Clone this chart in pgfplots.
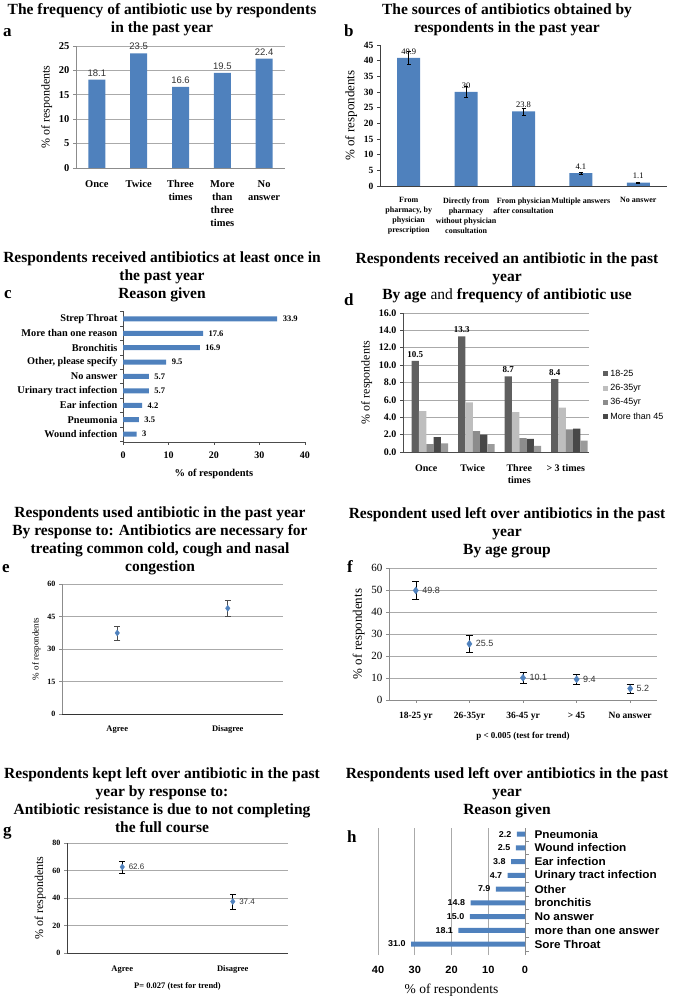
\documentclass[border=0pt]{standalone}
\usepackage{fontspec}
\setmainfont{Liberation Serif}
\setsansfont{Liberation Sans}
\newfontfamily\hsans[FakeStretch=1.05]{Liberation Sans}
\usepackage{pgfplots}
\pgfplotsset{compat=1.18}
\definecolor{barblue}{RGB}{79,129,189}
\definecolor{gridgray}{RGB}{170,170,170}
\definecolor{axgray}{RGB}{140,140,140}
\definecolor{dA}{RGB}{95,95,95}
\definecolor{dB}{RGB}{190,190,190}
\definecolor{dC}{RGB}{140,140,140}
\definecolor{dD}{RGB}{72,72,72}
\definecolor{dE}{RGB}{155,155,155}
\newcommand{\fs}[1]{\fontsize{#1}{#1}\selectfont}
\pgfplotsset{
  base/.style={scale only axis, anchor=north west,
    /pgf/number format/assume math mode=true,
    axis x line*=bottom, axis y line*=left,
    axis line style={draw=axgray, line width=0.6pt},
    tick style={draw=axgray, line width=0.6pt},
    tick align=outside,
    major tick length=3pt,
    grid style={draw=gridgray, line width=0.6pt},
    clip=false,
  },
}
\newcommand{\ttl}[3]{\node[anchor=north, align=center, inner sep=0pt, font=\bfseries\fontsize{15.5}{18}\selectfont] at (#1pt,#2pt) {#3};}
\newcommand{\plet}[3]{\node[anchor=base west, inner sep=0pt, font=\bfseries\fs{17}] at (#1pt,#2pt) {#3};}
\begin{document}
\begin{tikzpicture}
\useasboundingbox (0pt,0pt) rectangle (674pt,1000pt);
% titles
\ttl{162}{997}{The frequency of antibiotic use by respondents\\in the past year}
\ttl{507}{997}{The sources of antibiotics obtained by\\respondents in the past year}
\ttl{162}{748}{Respondents received antibiotics at least once in\\the past year\\Reason given}
\ttl{507}{747}{Respondents received an antibiotic in the past\\year\\By age {\mdseries and} frequency of antibiotic use}
\ttl{160}{493}{Respondents used antibiotic in the past year\\By response to: Antibiotics are necessary for\\treating common cold, cough and nasal\\congestion}
\ttl{507}{493}{Respondent used left over antibiotics in the past\\year\\By age group}
\ttl{162}{233}{Respondents kept left over antibiotic in the past\\year by response to:\\Antibiotic resistance is due to not completing\\the full course}
\ttl{507}{233}{Respondents used left over antibiotics in the past\\year\\Reason given}
\plet{3}{963}{a}
\plet{344}{963}{b}
\plet{4}{701}{c}
\plet{344}{694}{d}
\plet{2}{427}{e}
\plet{347}{427}{f}
\plet{3}{164}{g}
\plet{347}{157}{h}

% ---------- a
\begin{axis}[base, at={(76pt,954pt)}, width=209pt, height=122pt,
  ybar, bar width=17pt, xmin=-0.5, xmax=4.5, ymin=0, ymax=25, ytick={0,5,...,25},
  ymajorgrids, xtick=data, xtick style={draw=none},
  xticklabels={Once,Twice,{Three\\times},{More\\than\\three\\times},{No\\answer}},
  xticklabel style={align=center, font=\bfseries\fontsize{10.5}{13}\selectfont, anchor=north, yshift=-6pt},
  yticklabel style={font=\bfseries\fs{10.5}},
  ylabel={\% of respondents}, ylabel style={font=\fs{12}},
  nodes near coords, nodes near coords style={font=\sffamily\fs{9.5}, text=black!80}]
\addplot[fill=barblue, draw=none] coordinates {(0,18.1) (1,23.5) (2,16.6) (3,19.5) (4,22.4)};
\end{axis}

% ---------- b
\begin{axis}[base, at={(380pt,955pt)}, width=287pt, height=141pt,
  ybar, bar width=23pt, xmin=-0.5, xmax=4.5, ymin=0, ymax=45, ytick={0,5,...,45},
  axis line style={draw=black!75}, tick style={draw=black!75},
  xtick=data, xtick style={draw=none},
  xticklabels={{From\\pharmacy, by\\physician\\prescription},{Directly from\\pharmacy\\without physician\\consultation},{From physician\\after consultation},{Multiple answers},{No answer}},
  xticklabel style={align=center, font=\bfseries\fontsize{8}{10}\selectfont, anchor=north, yshift=-5pt},
  yticklabel style={font=\bfseries\fs{9.5}},
  ylabel={\% of respondents}, ylabel style={font=\fs{13}},
  nodes near coords, nodes near coords style={font=\fs{8.5}}]
\addplot[fill=barblue, draw=none, error bars/.cd, y dir=both, y explicit, error bar style={black, line width=0.8pt}]
  coordinates {(0,40.9) +- (0,2.1) (1,30) +- (0,1.7) (2,23.8) +- (0,1.1) (3,4.1) +- (0,0.3) (4,1.1) +- (0,0.2)};
\end{axis}

% ---------- c
\begin{axis}[base, at={(123pt,689pt)}, width=182pt, height=131pt,
  xbar, bar width=5pt, ymin=-0.55, ymax=8.55, xmin=0, xmax=40, xtick={0,10,...,40},
  axis line style={draw=black!70}, tick style={draw=black!70},
  major tick length=0pt, minor tick length=3pt,
  minor ytick={-0.5,0.5,...,8.5}, minor xtick={0,10,...,40},
  ytick={0,...,8},
  yticklabels={Wound infection, Pneumonia, Ear infection, Urinary tract infection, No answer, {Other, please specify}, Bronchitis, More than one reason, Strep Throat},
  yticklabel style={font=\bfseries\fs{10.3}, xshift=-2pt},
  xticklabel style={font=\bfseries\fs{10}, yshift=-6pt},
  xlabel={\% of respondents}, xlabel style={font=\bfseries\fs{10.5}, yshift=-4pt},
  nodes near coords, nodes near coords style={font=\bfseries\fs{8.5}, anchor=west, xshift=2pt}]
\addplot[fill=barblue, draw=none] coordinates {(3,0) (3.5,1) (4.2,2) (5.7,3) (5.7,4) (9.5,5) (16.9,6) (17.6,7) (33.9,8)};
\end{axis}

% ---------- d
\begin{axis}[base, at={(403pt,687pt)}, width=186pt, height=139pt,
  ybar=0pt, bar width=7.3pt, xmin=-0.5, xmax=3.5, ymin=0, ymax=16, ytick={0,2,...,16},
  ymajorgrids, axis line style={draw=black!70}, tick style={draw=black!70},
  yticklabel style={/pgf/number format/.cd, fixed, fixed zerofill, precision=1, /tikz/.cd, font=\bfseries\fs{10}},
  xtick=data, xtick style={draw=none},
  xticklabels={Once,Twice,{Three\\times},{> 3 times}},
  xticklabel style={align=center, font=\bfseries\fontsize{10}{12}\selectfont, anchor=north, yshift=-6pt},
  ylabel={\% of respondents}, ylabel style={font=\fs{12}},
  legend style={at={(1.06,0.62)}, anchor=north west, draw=none, fill=none, font=\sffamily\fs{9}, row sep=2.5pt, legend cell align=left},
  legend image code/.code={\path[#1,draw=none] (0pt,-2.5pt) rectangle (5pt,2.5pt);}]
\addplot[fill=dA, draw=none, nodes near coords, nodes near coords style={font=\bfseries\fs{9}}] coordinates {(0,10.5) (1,13.3) (2,8.7) (3,8.4)};
\addplot[fill=dB, draw=none] coordinates {(0,4.7) (1,5.7) (2,4.6) (3,5.1)};
\addplot[fill=dC, draw=none] coordinates {(0,0.9) (1,2.4) (2,1.6) (3,2.6)};
\addplot[fill=dD, draw=none] coordinates {(0,1.7) (1,2.0) (2,1.5) (3,2.7)};
\addplot[fill=dE, draw=none, forget plot] coordinates {(0,1.0) (1,0.9) (2,0.7) (3,1.3)};
\legend{18-25,26-35yr,36-45yr,More than 45}
\end{axis}

% ---------- e
\begin{axis}[base, at={(62pt,416pt)}, width=221pt, height=130pt,
  xmin=-0.5, xmax=1.5, ymin=0, ymax=60, ytick={0,15,...,60}, ymajorgrids,
  x axis line style={draw=black!80},
  xtick={0,1}, xticklabels={Agree,Disagree}, xtick style={draw=none},
  xticklabel style={font=\bfseries\fs{8.5}, yshift=-5pt},
  yticklabel style={font=\bfseries\fs{8}},
  ylabel={\% of respondents}, ylabel style={font=\fs{9}}]
\addplot[only marks, mark=diamond*, mark size=3pt, color=barblue, error bars/.cd, y dir=both, y explicit, error bar style={black!70, line width=0.6pt}]
  coordinates {(0,37.4) +- (0,3.3) (1,48.8) +- (0,3.8)};
\end{axis}

% ---------- f
\begin{axis}[base, at={(389pt,432pt)}, width=268pt, height=132pt,
  xmin=-0.5, xmax=4.5, ymin=0, ymax=60, ytick={0,10,...,60}, ymajorgrids,
  xtick=data, xticklabels={18-25 yr,26-35yr,36-45 yr,> 45,No answer},
  xticklabel style={font=\bfseries\fs{9.5}, yshift=-6pt},
  yticklabel style={font=\fs{11}},
  xlabel={p < 0.005 (test for trend)}, xlabel style={font=\bfseries\fs{9}, yshift=-4pt},
  ylabel={\% of respondents}, ylabel style={font=\fs{13}},
  nodes near coords, nodes near coords style={font=\sffamily\fs{9}, text=black!80, anchor=west, xshift=3pt}]
\addplot[only marks, mark=diamond*, mark size=3.5pt, color=barblue, error bars/.cd, y dir=both, y explicit, error bar style={black, line width=0.6pt}]
  coordinates {(0,49.8) +- (0,4.0) (1,25.5) +- (0,3.8) (2,10.1) +- (0,2.6) (3,9.4) +- (0,2.4) (4,5.2) +- (0,1.9)};
\end{axis}

% ---------- g
\begin{axis}[base, at={(67pt,157pt)}, width=221pt, height=110pt,
  xmin=-0.5, xmax=1.5, ymin=0, ymax=80, ytick={0,20,...,80}, ymajorgrids,
  axis line style={draw=black!75},
  xtick={0,1}, xticklabels={Agree,Disagree}, xtick style={draw=none},
  xticklabel style={font=\bfseries\fs{8.5}, yshift=-6pt},
  yticklabel style={font=\bfseries\fs{8}},
  xlabel={P= 0.027 (test for trend)}, xlabel style={font=\bfseries\fs{8.5}, yshift=-2pt},
  ylabel={\% of respondents}, ylabel style={font=\fs{12}},
  nodes near coords, nodes near coords style={font=\sffamily\fs{8}, text=black!80, anchor=west, xshift=3pt}]
\addplot[only marks, mark=diamond*, mark size=3pt, color=barblue, error bars/.cd, y dir=both, y explicit, error bar style={black, line width=0.6pt}]
  coordinates {(0,62.6) +- (0,4.5) (1,37.4) +- (0,5.4)};
\end{axis}

% ---------- h
\begin{axis}[base, at={(378pt,172pt)}, width=147pt, height=127pt,
  xbar, bar width=5pt, x dir=reverse, xmin=0, xmax=40, xtick={0,10,...,40}, xmajorgrids,
  ymin=-0.8, ymax=8.44, axis y line*=right, x axis line style={draw=none}, xtick style={draw=none},
  major tick length=0pt, minor tick length=4pt, minor ytick={-0.5,0.5,...,8.5},
  tick align=outside,
  ytick={0,...,8},
  yticklabels={Sore Throat, more than one answer, No answer, bronchitis, Other, Urinary tract infection, Ear infection, Wound infection, Pneumonia},
  yticklabel style={font=\hsans\bfseries\fs{11.2}, xshift=6pt},
  xticklabel style={font=\hsans\bfseries\fs{10.5}, yshift=-8pt},
  xlabel={\% of respondents}, xlabel style={font=\fs{13.5}, yshift=-3pt},
  nodes near coords={\pgfmathprintnumber[fixed,fixed zerofill,precision=1]{\pgfplotspointmeta}},
  nodes near coords style={font=\hsans\bfseries\fs{8.5}, anchor=east, xshift=-2pt}]
\addplot[fill=barblue, draw=none] coordinates {(31.0,0) (18.1,1) (15.0,2) (14.8,3) (7.9,4) (4.7,5) (3.8,6) (2.5,7) (2.2,8)};
\end{axis}
\end{tikzpicture}
\end{document}
